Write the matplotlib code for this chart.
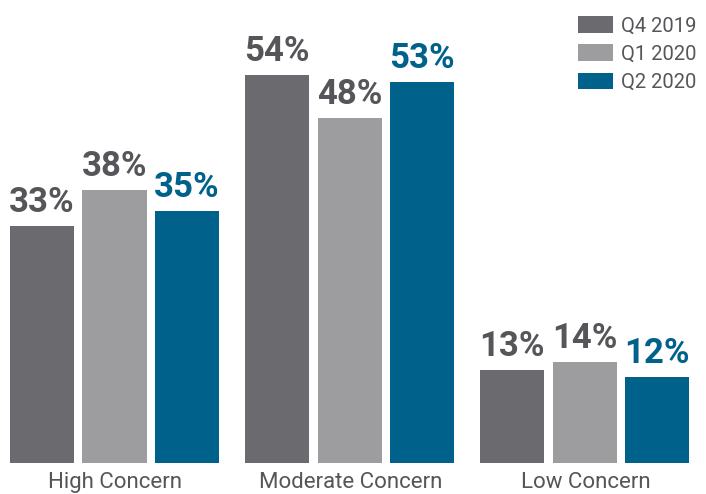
import matplotlib
matplotlib.use("Agg")
import matplotlib.pyplot as plt
import numpy as np

categories = ["High Concern", "Moderate Concern", "Low Concern"]
periods = ["Q4 2019", "Q1 2020", "Q2 2020"]
q4_2019 = [33, 54, 13]
q1_2020 = [38, 48, 14]
q2_2020 = [35, 53, 12]

bar_colors = ["#6b6a6f", "#9d9c9e", "#00628b"]
label_colors = ["#55555a", "#55555a", "#00628b"]
text_color = "#55555a"

plt.rcParams["font.family"] = ["Roboto", "DejaVu Sans"]

W, H = 706, 494
fig = plt.figure(figsize=(W / 100, H / 100), dpi=100)
base_px = 31
ax = fig.add_axes([0, base_px / H, 1, 1 - base_px / H])

# one category unit = 235 px, first group centred at x=114.5 px
group_px = 235.0
x0_px = 114.5
ax.set_xlim(-x0_px / group_px, (W - x0_px) / group_px)
ax.set_ylim(0, (H - base_px) / 7.19)

x = np.arange(len(categories))
step = 0.3085
width = 64 / group_px
series = [q4_2019, q1_2020, q2_2020]
for i, vals in enumerate(series):
    xs = x + (i - 1) * step
    ax.bar(xs, vals, width=width, color=bar_colors[i], label=periods[i])
    for xi, v in zip(xs, vals):
        ax.annotate(f"{v}%", (xi, v), xytext=(0, 7), textcoords="offset pixels",
                    ha="center", va="bottom", fontsize=25, fontweight="bold",
                    color=label_colors[i])

for xi, cat in zip(x, categories):
    ax.annotate(cat, (xi, 0), xytext=(1, -9), textcoords="offset pixels",
                ha="center", va="top", fontsize=16, color=text_color,
                annotation_clip=False)

ax.axis("off")

leg = fig.legend(loc="upper left", bbox_to_anchor=(578 / W, 1 - 16 / H),
                 frameon=False, fontsize=14.5, handlelength=1.75, handleheight=0.9,
                 handletextpad=0.4, labelspacing=0.45, borderpad=0, borderaxespad=0)
for t in leg.get_texts():
    t.set_color(text_color)

fig.savefig("out.png", dpi=100)
